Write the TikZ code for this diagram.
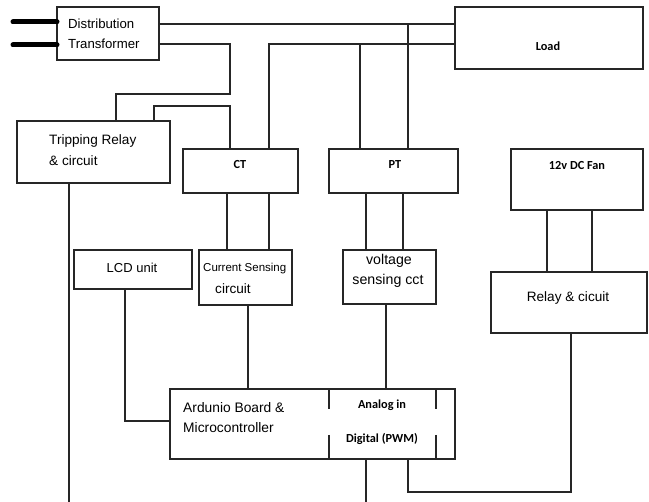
\documentclass[tikz,border=0pt]{standalone}
\usepackage{fontspec}
\setmainfont{Liberation Sans}
\newfontfamily\calib{Carlito}
\begin{document}
\begin{tikzpicture}[x=1pt,y=-1pt,
  box/.style={draw=black!85, line width=1.3pt, inner sep=0pt, outer sep=0pt, rectangle},
  wire/.style={draw=black!85, line width=1.2pt},
  thick wire/.style={draw=black, line width=5pt, line cap=round},
  txt/.style={inner sep=0pt, font=\fontsize{13.6}{20}\selectfont, text=black},
  ctxt/.style={inner sep=0pt, font=\calib\bfseries\fontsize{12.3}{15}\selectfont, text=black}]
\useasboundingbox (0,0) rectangle (649,502);
% boxes
\node[box, minimum width=102, minimum height=53] (dt) at (108,33.5) {};
\node[box, minimum width=153, minimum height=62] (tr) at (93.5,152) {};
\node[box, minimum width=115, minimum height=44] (ct) at (240.5,171) {};
\node[box, minimum width=129, minimum height=44] (pt) at (393.5,171) {};
\node[box, minimum width=188, minimum height=62] (load) at (549,38) {};
\node[box, minimum width=132, minimum height=61] (fan) at (577,179.5) {};
\node[box, minimum width=93, minimum height=55] (cs) at (245.5,277.5) {};
\node[box, minimum width=118, minimum height=39] (lcd) at (133,269.5) {};
\node[box, minimum width=93, minimum height=54] (vs) at (389.5,277) {};
\node[box, minimum width=156, minimum height=61] (relay) at (569,302.5) {};
\node[box, minimum width=285, minimum height=70] (ard) at (312.5,424) {};
% texts
\node[txt, font=\fontsize{13.2}{20}\selectfont, anchor=west] (dtt1) at (68,24) {Distribution};
\node[txt, font=\fontsize{13.2}{20}\selectfont, anchor=west] (dtt2) at (68,44) {Transformer};
\node[txt, anchor=west] (trt1) at (49,141) {Tripping Relay};
\node[txt, anchor=west] (trt2) at (49,161) {\& circuit};
\node[ctxt] (ctt) at (240,165) {CT};
\node[ctxt] (ptt) at (395,165) {PT};
\node[ctxt] (loadt) at (548,46) {Load};
\node[ctxt] (fant) at (577,166) {12v DC Fan};
\node[txt, font=\fontsize{13}{20}\selectfont] (lcdt) at (132,268) {LCD unit};
\node[txt, font=\fontsize{11.5}{13}\selectfont, anchor=west] (cst1) at (203,269) {Current Sensing};
\node[txt, anchor=west] (cst2) at (215,289) {circuit};
\node[txt, font=\fontsize{14.2}{20}\selectfont] (vst1) at (389,261) {voltage};
\node[txt, font=\fontsize{14.2}{20}\selectfont] (vst2) at (388,281) {sensing cct};
\node[txt] (relayt) at (568,298) {Relay \& cicuit};
\node[txt, font=\fontsize{13.8}{20}\selectfont, anchor=west] (ardt1) at (183,408) {Ardunio Board \&};
\node[txt, font=\fontsize{13.8}{20}\selectfont, anchor=west] (ardt2) at (183,428) {Microcontroller};
\node[ctxt] (ant) at (382,405) {Analog in};
\node[ctxt] (digt) at (382,439) {Digital (PWM)};
% coordinates for free ends
\coordinate (in1) at (13,22);
\coordinate (in2) at (13,45);
\coordinate (trdown) at (69,502);
\coordinate (arddown) at (366,502);
% supply lines
\draw[thick wire] (in1) -- (dt.west |- in1);
\draw[thick wire] (in2) -- (dt.west |- in2);
% connectors
\draw[wire] (dt.east |- 0,24) -- (load.west |- 0,24);
\draw[wire] (dt.east |- 0,44) -- (230,44) -- (230,94) -- (116,94) -- (tr.north -| 116,0);
\draw[wire] (ct.north -| 269,0) -- (269,44) -- (load.west |- 0,44);
\draw[wire] (pt.north -| 360,0) -- (360,44);
\draw[wire] (pt.north -| 408,0) -- (408,24);
\draw[wire] (tr.north -| 154,0) -- (154,106) -- (230,106) -- (ct.north -| 230,0);
\draw[wire] (ct.south -| 227,0) -- (cs.north -| 227,0);
\draw[wire] (ct.south -| 269,0) -- (cs.north -| 269,0);
\draw[wire] (pt.south -| 366,0) -- (vs.north -| 366,0);
\draw[wire] (pt.south -| 403,0) -- (vs.north -| 403,0);
\draw[wire] (fan.south -| 547,0) -- (relay.north -| 547,0);
\draw[wire] (fan.south -| 592,0) -- (relay.north -| 592,0);
\draw[wire] (lcd.south -| 125,0) -- (125,421) -- (ard.west |- 0,421);
\draw[wire] (cs.south -| 248,0) -- (ard.north -| 248,0);
\draw[wire] (vs.south -| 386,0) -- (ard.north -| 386,0);
\draw[wire] (relay.south -| 571,0) -- (571,492) -- (408,492) -- (ard.south -| 408,0);
\draw[wire] (ard.south -| arddown) -- (arddown);
\draw[wire] (tr.south -| trdown) -- (trdown);
% inner separators of the Arduino box
\draw[wire] (ard.north -| 329,0) -- (329,409);
\draw[wire] (329,435) -- (ard.south -| 329,0);
\draw[wire] (ard.north -| 436,0) -- (436,409);
\draw[wire] (436,435) -- (ard.south -| 436,0);
\end{tikzpicture}
\end{document}
